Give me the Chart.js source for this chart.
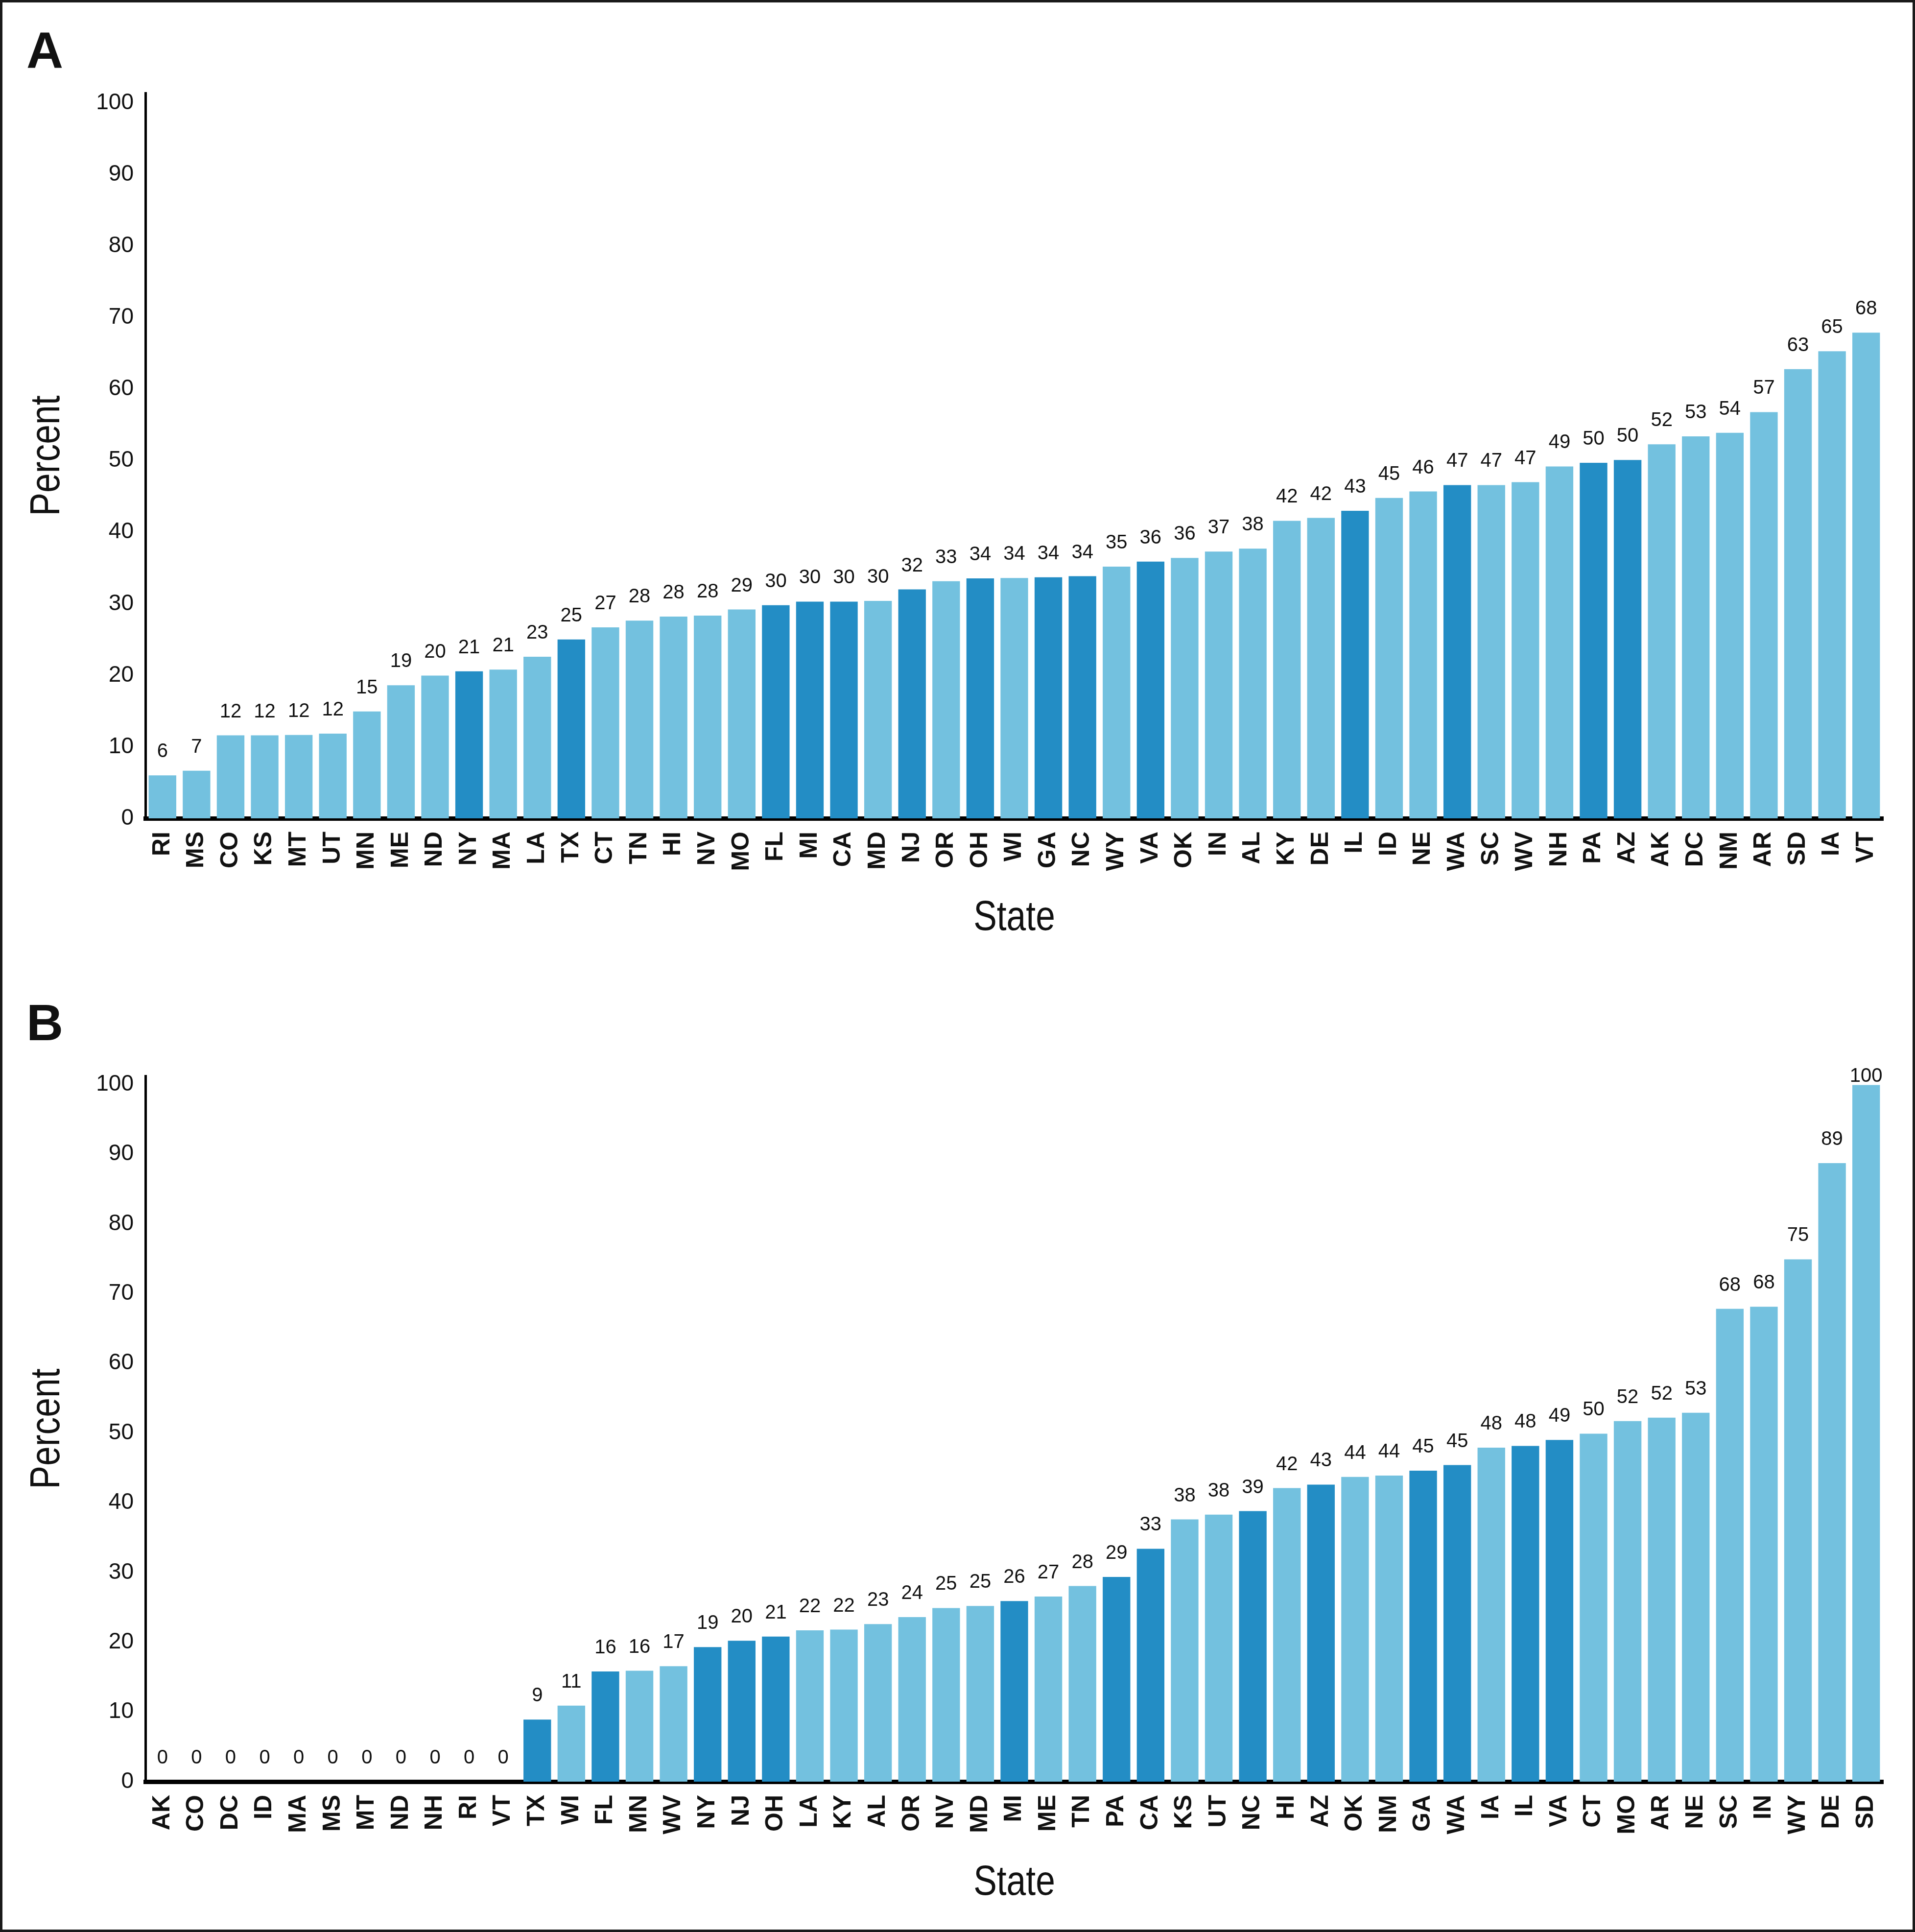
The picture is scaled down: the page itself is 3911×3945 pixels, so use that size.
<!DOCTYPE html>
<html>
<head>
<meta charset="utf-8">
<script src="https://cdn.jsdelivr.net/npm/chart.js@4.4.1/dist/chart.umd.min.js"></script>
<style>
  html, body { margin: 0; padding: 0; background: #fff; }
  canvas { position: absolute; left: 0; }
  #frame { position: absolute; left: 0; top: 0; width: 3911px; height: 3945px; box-sizing: border-box; border: 5px solid #1a1a1a; pointer-events: none; }
  .panel-label { position: absolute; left: 54px; font: bold 104px 'Liberation Sans', Arial, sans-serif; line-height: 104px; color: #111; }
</style>
</head>
<body>
<canvas id="chartA" width="3911" height="1972" style="top:0"></canvas>
<canvas id="chartB" width="3911" height="1973" style="top:1972px"></canvas>
<div class="panel-label" style="top:50px">A</div>
<div class="panel-label" style="top:2036px">B</div>
<div id="frame"></div>
<script>
const statesA = ['RI','MS','CO','KS','MT','UT','MN','ME','ND','NY','MA','LA','TX','CT','TN','HI','NV','MO','FL','MI','CA','MD','NJ','OR','OH','WI','GA','NC','WY','VA','OK','IN','AL','KY','DE','IL','ID','NE','WA','SC','WV','NH','PA','AZ','AK','DC','NM','AR','SD','IA','VT'];
const valuesA = [6.0, 6.65, 11.6, 11.6, 11.65, 11.85, 14.95, 18.6, 19.95, 20.55, 20.8, 22.6, 25.0, 26.7, 27.65, 28.2, 28.35, 29.2, 29.8, 30.3, 30.3, 30.4, 32.0, 33.15, 33.55, 33.6, 33.7, 33.85, 35.2, 35.9, 36.4, 37.3, 37.7, 41.6, 42.0, 43.0, 44.8, 45.7, 46.6, 46.6, 47.0, 49.2, 49.7, 50.1, 52.3, 53.4, 53.9, 56.8, 62.8, 65.3, 67.9];

const statesB = ['AK','CO','DC','ID','MA','MS','MT','ND','NH','RI','VT','TX','WI','FL','MN','WV','NY','NJ','OH','LA','KY','AL','OR','NV','MD','MI','ME','TN','PA','CA','KS','UT','NC','HI','AZ','OK','NM','GA','WA','IA','IL','VA','CT','MO','AR','NE','SC','IN','WY','DE','SD'];
const valuesB = [0, 0, 0, 0, 0, 0, 0, 0, 0, 0, 0, 8.9, 10.9, 15.8, 15.9, 16.55, 19.3, 20.2, 20.8, 21.7, 21.8, 22.6, 23.6, 24.9, 25.2, 25.9, 26.55, 28.05, 29.35, 33.4, 37.6, 38.3, 38.8, 42.1, 42.6, 43.7, 43.9, 44.6, 45.4, 47.9, 48.15, 49.0, 49.9, 51.7, 52.2, 52.9, 67.8, 68.1, 74.9, 88.7, 99.9];

// the 14 states drawn in the darker blue in both panels
const highlighted = ['NY','TX','FL','MI','CA','NJ','OH','GA','NC','VA','IL','WA','PA','AZ'];
const yTicks = [0, 10, 20, 30, 40, 50, 60, 70, 80, 90, 100];
const xTitle = 'State';
const yTitle = 'Percent';

const lightBlue = '#73c1df';
const darkBlue = '#238dc5';
const textColor = '#111';
const baseFont = "'Liberation Sans', Arial, sans-serif";

Chart.defaults.font.family = baseFont;

const valueLabels = {
  id: 'valueLabels',
  afterDatasetsDraw(chart) {
    const { ctx, chartArea } = chart;
    const meta = chart.getDatasetMeta(0);
    const values = chart.data.datasets[0].data;
    ctx.save();
    ctx.font = `40px ${baseFont}`;
    ctx.fillStyle = textColor;
    ctx.textAlign = 'center';
    ctx.textBaseline = 'alphabetic';
    meta.data.forEach((bar, i) => {
      // labels near the top are tucked down so they stay close to the plot
      const y = Math.max(bar.y - 37, chartArea.top + 12);
      ctx.fillText(String(Math.round(values[i])), bar.x, y);
    });
    ctx.restore();
  }
};

// axis titles in a narrow face: there is no condensed font installed, so squeeze the text
const axisTitles = {
  id: 'axisTitles',
  afterDraw(chart, args, o) {
    const { ctx, chartArea, scales } = chart;
    ctx.save();
    ctx.font = `${o.size}px ${baseFont}`;
    ctx.fillStyle = textColor;
    ctx.textAlign = 'center';
    ctx.textBaseline = 'middle';

    ctx.save();
    ctx.translate((chartArea.left + chartArea.right) / 2, scales.x.bottom - o.xOffset);
    ctx.scale(o.squeeze, 1);
    ctx.fillText(xTitle, 0, 0);
    ctx.restore();

    ctx.save();
    ctx.translate(scales.y.left + o.yOffset, (chartArea.top + chartArea.bottom) / 2);
    ctx.rotate(-Math.PI / 2);
    ctx.scale(o.squeeze, 1);
    ctx.fillText(yTitle, 0, 0);
    ctx.restore();

    ctx.restore();
  }
};

const makeChart = (canvasId, states, values, opts) => {
  const ctx = document.getElementById(canvasId).getContext('2d');
  return new Chart(ctx, {
    type: 'bar',
    data: {
      labels: states,
      datasets: [{
        data: values,
        backgroundColor: states.map(s => highlighted.includes(s) ? darkBlue : lightBlue),
        borderWidth: 0,
        barPercentage: 0.81,
        categoryPercentage: 1
      }]
    },
    options: {
      responsive: false,
      animation: false,
      devicePixelRatio: 1,
      layout: { padding: { left: 0, right: 65, top: opts.top, bottom: 0 } },
      plugins: {
        legend: { display: false },
        tooltip: { enabled: false },
        axisTitles: { size: 86, squeeze: 0.83, xOffset: opts.xTitleOffset, yOffset: 97 }
      },
      scales: {
        x: {
          z: 1,
          grid: { display: false, drawTicks: false },
          border: { display: true, color: '#000', width: 9 },
          ticks: {
            autoSkip: false,
            maxRotation: 90,
            minRotation: 90,
            padding: 27,
            color: textColor,
            font: { size: 50, weight: 'bold' }
          },
          afterFit: s => { s.height = opts.xHeight; }
        },
        y: {
          min: 0,
          max: opts.max,
          afterBuildTicks: s => { s.ticks = yTicks.map(v => ({ value: v })); },
          grid: { display: false, drawTicks: false },
          border: { display: true, color: '#000', width: 5 },
          ticks: { padding: 24, color: textColor, font: { size: 46 } },
          afterFit: s => { s.width = 297; }
        }
      }
    },
    plugins: [valueLabels, axisTitles]
  });
};

makeChart('chartA', statesA, valuesA, { top: 190, max: 101.4, xHeight: 301, xTitleOffset: 97 });
makeChart('chartB', statesB, valuesB, { top: 225, max: 101.2, xHeight: 307, xTitleOffset: 100 });
</script>
</body>
</html>
